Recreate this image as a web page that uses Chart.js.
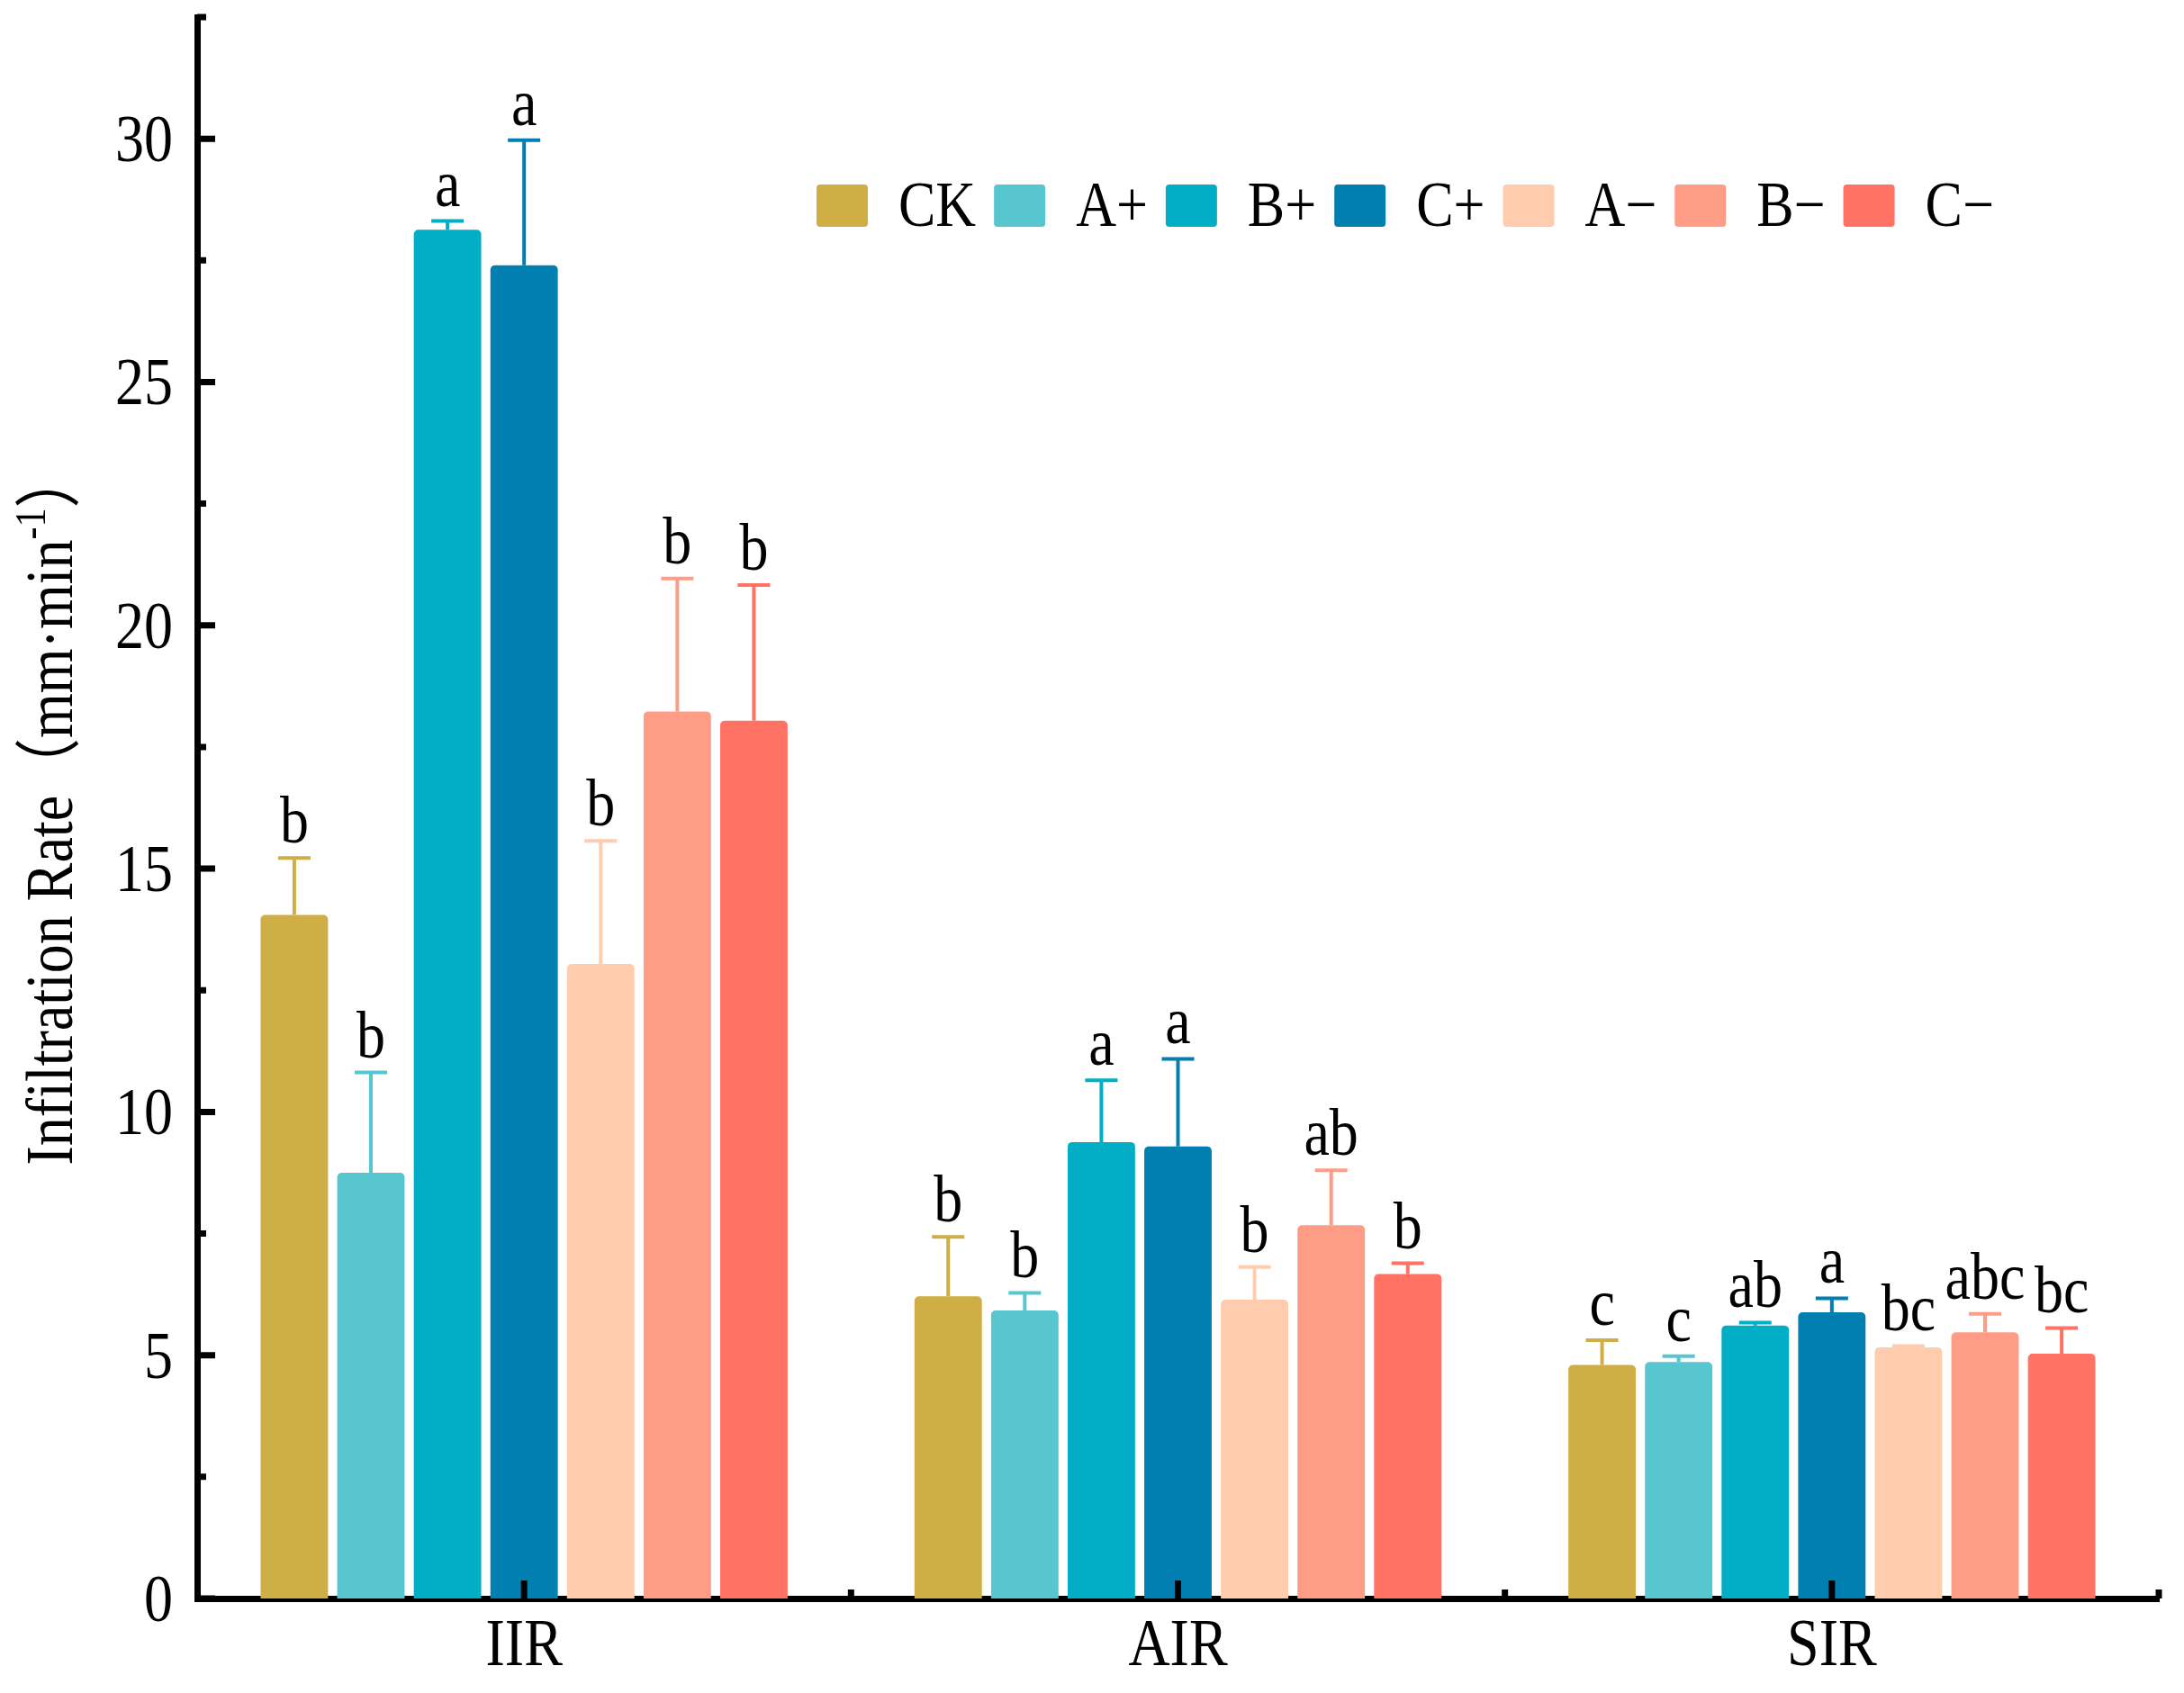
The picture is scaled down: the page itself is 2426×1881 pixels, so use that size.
<!DOCTYPE html>
<html>
<head>
<meta charset="utf-8">
<title>Infiltration Rate</title>
<script src="https://cdn.jsdelivr.net/npm/chart.js@4.4.1/dist/chart.umd.min.js"></script>
<style>
  html, body { margin: 0; padding: 0; background: #fff; }
  #wrap { width: 2426px; height: 1881px; position: relative; }
</style>
</head>
<body>
<div id="wrap"><canvas id="chart"></canvas></div>
<script>
(() => {
  "use strict";

  // ---------- data ----------
  const categories = ["IIR", "AIR", "SIR"];
  const treatments = ["CK", "A+", "B+", "C+", "A\u2212", "B\u2212", "C\u2212"];
  const colors = ["#CFAE45", "#58C6CE", "#02AEC6", "#027FB1", "#FFCCAE", "#FF9C86", "#FF7264"];

  // one value per treatment, in the order above
  const iirMean = [14.05, 8.75, 28.13, 27.40, 13.04, 18.23, 18.04];
  const airMean = [6.21, 5.92, 9.38, 9.29, 6.14, 7.67, 6.67];
  const sirMean = [4.80, 4.86, 5.61, 5.88, 5.16, 5.47, 5.03];

  const iirErr = [1.17, 2.06, 0.18, 2.57, 2.53, 2.73, 2.79];
  const airErr = [1.22, 0.36, 1.27, 1.80, 0.67, 1.13, 0.22];
  const sirErr = [0.51, 0.12, 0.06, 0.29, 0.03, 0.38, 0.53];

  const iirLetters = ["b", "b", "a", "a", "b", "b", "b"];
  const airLetters = ["b", "b", "a", "a", "b", "ab", "b"];
  const sirLetters = ["c", "c", "ab", "a", "bc", "abc", "bc"];

  const yTicks = [0, 5, 10, 15, 20, 25, 30];
  const yMinorTicks = [2.5, 7.5, 12.5, 17.5, 22.5, 27.5, 32.5];
  const Y_MAX = 32.5;

  const FONT = '"Liberation Serif", "Times New Roman", serif';
  const CJK = '"Liberation Serif", "Noto Sans CJK SC", serif';
  const AXIS_W = 7;

  const means = [iirMean, airMean, sirMean];
  const errs = [iirErr, airErr, sirErr];
  const letters = [iirLetters, airLetters, sirLetters];

  const datasets = treatments.map((name, t) => ({
    label: name,
    data: means.map((m) => m[t]),
    err: errs.map((e) => e[t]),
    letters: letters.map((l) => l[t]),
    backgroundColor: colors[t],
    borderWidth: 0,
    borderRadius: { topLeft: 5, topRight: 5, bottomLeft: 0, bottomRight: 0 },
    borderSkipped: "bottom",
    categoryPercentage: 0.82,
    barPercentage: 0.88,
  }));

  // text in the reference is a tall, narrow Times; stretch glyphs vertically
  const STRETCH = 1.15;
  function tallText(ctx, text, x, y) {
    ctx.save();
    ctx.translate(x, y);
    ctx.scale(1, STRETCH);
    ctx.fillText(text, 0, 0);
    ctx.restore();
  }

  // ---------- plugins ----------
  const errorBars = {
    id: "errorBars",
    afterDatasetsDraw(chart) {
      const { ctx } = chart;
      const y = chart.scales.y;
      ctx.save();
      chart.data.datasets.forEach((ds, d) => {
        const meta = chart.getDatasetMeta(d);
        meta.data.forEach((bar, i) => {
          const top = y.getPixelForValue(ds.data[i] + ds.err[i]);
          ctx.strokeStyle = ds.backgroundColor;
          ctx.lineWidth = 4;
          ctx.beginPath();
          ctx.moveTo(bar.x, bar.y);
          ctx.lineTo(bar.x, top);
          ctx.moveTo(bar.x - 18, top);
          ctx.lineTo(bar.x + 18, top);
          ctx.stroke();

          ctx.fillStyle = "#000";
          ctx.font = `64px ${FONT}`;
          ctx.textAlign = "center";
          ctx.textBaseline = "alphabetic";
          tallText(ctx, ds.letters[i], bar.x, top - 17);
        });
      });
      ctx.restore();
    },
  };

  const inwardTicks = {
    id: "inwardTicks",
    afterDraw(chart) {
      const { ctx, chartArea } = chart;
      const x = chart.scales.x;
      const y = chart.scales.y;
      ctx.save();
      ctx.strokeStyle = "#000";
      ctx.lineWidth = AXIS_W;
      ctx.beginPath();
      yTicks.forEach((v) => {
        const py = y.getPixelForValue(v);
        ctx.moveTo(chartArea.left, py);
        ctx.lineTo(chartArea.left + 20, py);
      });
      yMinorTicks.forEach((v) => {
        const py = y.getPixelForValue(v);
        ctx.moveTo(chartArea.left, py);
        ctx.lineTo(chartArea.left + 10, py);
      });
      categories.forEach((_, i) => {
        const px = x.getPixelForValue(i);
        ctx.moveTo(px, chartArea.bottom);
        ctx.lineTo(px, chartArea.bottom - 20);
        const bx = x.getPixelForValue(i + 0.5);
        ctx.moveTo(bx, chartArea.bottom);
        ctx.lineTo(bx, chartArea.bottom - 10);
      });
      ctx.stroke();

      // tick labels, drawn tall like the reference
      ctx.fillStyle = "#000";
      ctx.font = `64px ${FONT}`;
      ctx.textAlign = "right";
      ctx.textBaseline = "alphabetic";
      yTicks.forEach((v) => {
        tallText(ctx, String(v), chartArea.left - 27, y.getPixelForValue(v) + 25);
      });
      ctx.textAlign = "center";
      categories.forEach((c, i) => {
        tallText(ctx, c, x.getPixelForValue(i), chartArea.bottom + 74);
      });
      ctx.restore();
    },
  };

  const boxLegend = {
    id: "boxLegend",
    afterDraw(chart) {
      const { ctx } = chart;
      const boxW = 57, boxH = 47, boxTop = 205;
      let cx = 907;
      ctx.save();
      ctx.font = `62px ${FONT}`;
      ctx.textAlign = "left";
      ctx.textBaseline = "alphabetic";
      chart.data.datasets.forEach((ds) => {
        ctx.fillStyle = ds.backgroundColor;
        ctx.beginPath();
        ctx.roundRect(cx, boxTop, boxW, boxH, 4);
        ctx.fill();
        const tx = cx + boxW + 34;
        ctx.fillStyle = "#000";
        tallText(ctx, ds.label, tx, boxTop + 46);
        cx = tx + ctx.measureText(ds.label).width + 20;
      });
      ctx.restore();
    },
  };

  const yTitle = {
    id: "yTitle",
    afterDraw(chart) {
      const { ctx, chartArea } = chart;
      const main = "Infiltration Rate\uFF08mm\u00B7min";
      const sup = "-1";
      const close = "\uFF09";
      const big = `64px ${CJK}`;
      const small = `42px ${FONT}`;
      ctx.save();
      ctx.font = big;
      const w1 = ctx.measureText(main).width;
      const w3 = ctx.measureText(close).width;
      ctx.font = small;
      const w2 = ctx.measureText(sup).width;
      const total = w1 + w2 + w3;
      ctx.translate(80, (chartArea.top + chartArea.bottom) / 2);
      ctx.rotate(-Math.PI / 2);
      ctx.scale(1, STRETCH);
      ctx.fillStyle = "#000";
      ctx.textAlign = "left";
      ctx.textBaseline = "alphabetic";
      let px = -total / 2;
      ctx.font = big;
      ctx.fillText(main, px, 0);
      px += w1;
      ctx.font = small;
      ctx.fillText(sup, px, -26);
      px += w2;
      ctx.font = big;
      ctx.fillText(close, px, 0);
      ctx.restore();
    },
  };

  // ---------- chart ----------
  new Chart(document.getElementById("chart"), {
    type: "bar",
    data: { labels: categories, datasets },
    plugins: [errorBars, inwardTicks, boxLegend, yTitle],
    options: {
      responsive: true,
      maintainAspectRatio: false,
      animation: false,
      devicePixelRatio: 1,
      layout: { padding: { top: 19, right: 28, left: 0, bottom: 0 } },
      plugins: { legend: { display: false }, tooltip: { enabled: false } },
      scales: {
        x: {
          grid: { display: false, drawTicks: false },
          border: { display: true, color: "#000", width: AXIS_W },
          ticks: { display: false },
          afterFit: (s) => { s.height = 105; s.paddingLeft = 0; s.paddingRight = 0; },
        },
        y: {
          min: 0,
          max: Y_MAX,
          grid: { display: false, drawTicks: false },
          border: { display: true, color: "#000", width: AXIS_W },
          ticks: { display: false },
          afterBuildTicks: (s) => { s.ticks = yTicks.map((v) => ({ value: v })); },
          afterFit: (s) => { s.width = 219; s.paddingTop = 0; s.paddingBottom = 0; },
        },
      },
    },
  });
})();
</script>
</body>
</html>
